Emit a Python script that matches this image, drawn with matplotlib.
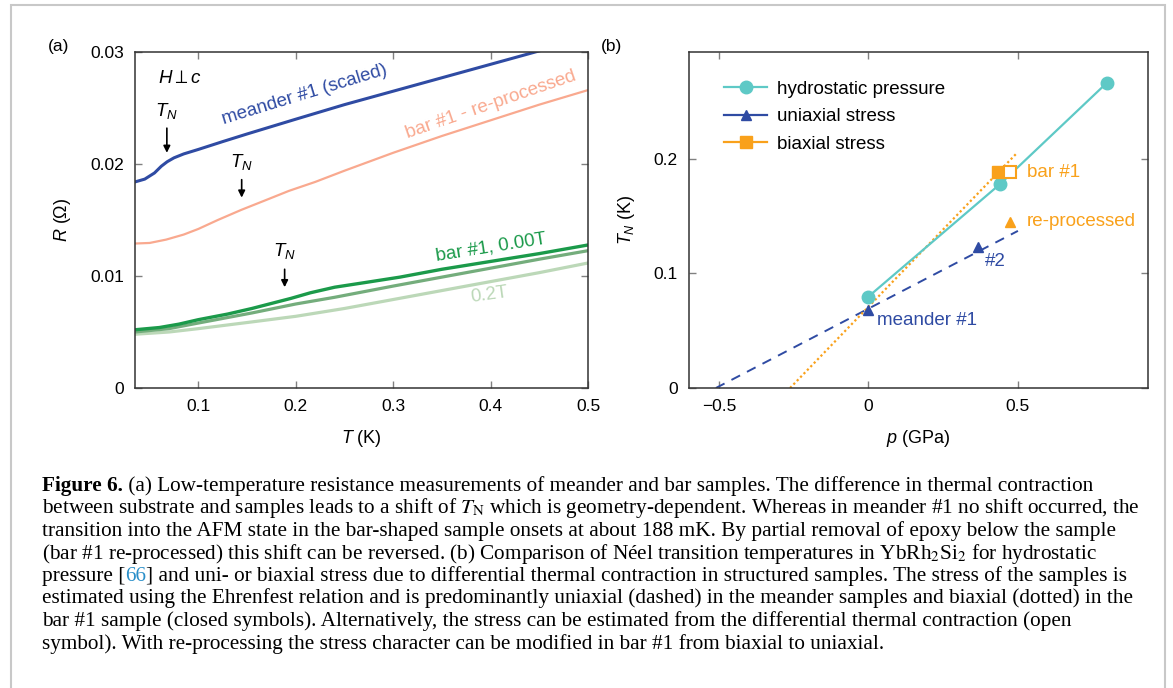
import numpy as np
import matplotlib
matplotlib.use("Agg")
import matplotlib.pyplot as plt
from matplotlib.patches import Rectangle

plt.rcParams['font.family'] = ['Liberation Sans', 'DejaVu Sans']
plt.rcParams['mathtext.fontset'] = 'custom'
plt.rcParams['mathtext.rm'] = 'Liberation Sans'
plt.rcParams['mathtext.it'] = 'Liberation Sans:italic'
plt.rcParams['mathtext.fallback'] = 'stixsans'

# ---- panel (a): R(T) curves ----
T_meander = [0.035, 0.045, 0.055, 0.062, 0.068, 0.075, 0.085, 0.1, 0.125, 0.15, 0.2, 0.25, 0.3, 0.35, 0.4, 0.45, 0.5]
R_meander = [0.0184, 0.01865, 0.0192, 0.0198, 0.0202, 0.02055, 0.0209, 0.0213, 0.0220, 0.02268, 0.0240, 0.0253,
             0.0265, 0.0277, 0.0289, 0.0301, 0.0313]

T_reproc = [0.035, 0.05, 0.067, 0.085, 0.1, 0.12, 0.144, 0.17, 0.193, 0.22, 0.25, 0.3, 0.35, 0.4, 0.45, 0.5]
R_reproc = [0.0129, 0.01295, 0.01325, 0.0137, 0.0142, 0.0150, 0.0159, 0.0168, 0.0176, 0.0184, 0.0194, 0.0210,
            0.0225, 0.0239, 0.0253, 0.0266]

T_bar0 = [0.035, 0.06, 0.08, 0.1, 0.13, 0.155, 0.175, 0.195, 0.215, 0.24, 0.27, 0.307, 0.35, 0.4, 0.45, 0.5]
R_bar0 = [0.0052, 0.0054, 0.0057, 0.0061, 0.0066, 0.0071, 0.00755, 0.0080, 0.0085, 0.0090, 0.0094, 0.0099,
          0.0106, 0.0113, 0.0120, 0.01277]

T_barmid = [0.035, 0.07, 0.1, 0.155, 0.2, 0.24, 0.3, 0.35, 0.4, 0.45, 0.5]
R_barmid = [0.0050, 0.0053, 0.0058, 0.0067, 0.0075, 0.0081, 0.0091, 0.0099, 0.0107, 0.0115, 0.01226]

T_bar02 = [0.035, 0.07, 0.1, 0.155, 0.2, 0.25, 0.3, 0.35, 0.4, 0.45, 0.5]
R_bar02 = [0.0048, 0.0050, 0.0053, 0.0059, 0.0064, 0.0071, 0.0079, 0.0087, 0.0095, 0.0103, 0.01116]

# T_N markers: (T, label R, arrow start R, arrow end R)
tn_T = [0.0677, 0.1445, 0.1886]
tn_label_R = [0.0247, 0.02015, 0.01225]
tn_arrow_R = [(0.0232, 0.0210), (0.0186, 0.0170), (0.0106, 0.0090)]

# ---- panel (b): T_N(p) ----
p_hydro = [0.0, 0.441, 0.797]
TN_hydro = [0.0797, 0.178, 0.266]
p_uni = [0.0, 0.366]
TN_uni = [0.068, 0.123]
p_uni_fit = [-0.51, 0.5]
TN_uni_fit = [0.0, 0.137]
p_bi = [0.435]
TN_bi = [0.188]
p_bi_open = [0.473]
TN_bi_open = [0.188]
p_bi_fit = [-0.262, 0.497]
TN_bi_fit = [0.0, 0.205]
p_reproc = [0.472]
TN_reproc = [0.145]

c_cyan = '#5ec9c6'
c_blue = '#2f4ba3'
c_orange = '#f9a11b'
c_salmon = '#f9a98f'
c_green = '#1b9a4a'
c_green_mid = '#74ad7c'
c_green_light = '#bcd8b8'
spine_c = '#333333'
tick_c = '#808080'
afs = 13.5

fig = plt.figure(figsize=(11.73, 6.88), dpi=100)
W, H = 1173, 688


def fx(px):
    return px / W


def fy(py):
    return 1 - py / H


ax1 = fig.add_axes([fx(135), fy(388), fx(588) - fx(135), fy(52) - fy(388)])
ax2 = fig.add_axes([fx(689), fy(388), fx(1148) - fx(689), fy(52) - fy(388)])

for ax in (ax1, ax2):
    for s in ax.spines.values():
        s.set_color(spine_c)
        s.set_linewidth(1.1)
    ax.tick_params(direction='in', top=True, right=True, length=5, width=1,
                   color=tick_c, labelsize=12.5, pad=8)

# panel (a)
ax1.plot(T_bar02, R_bar02, color=c_green_light, lw=2.3)
ax1.plot(T_barmid, R_barmid, color=c_green_mid, lw=2.3)
ax1.plot(T_bar0, R_bar0, color=c_green, lw=2.4)
ax1.plot(T_reproc, R_reproc, color=c_salmon, lw=1.6)
ax1.plot(T_meander, R_meander, color=c_blue, lw=2.2)
ax1.set_xlim(0.035, 0.5)
ax1.set_ylim(0, 0.03)
ax1.set_xticks([0.1, 0.2, 0.3, 0.4, 0.5])
ax1.set_xticklabels(['0.1', '0.2', '0.3', '0.4', '0.5'])
ax1.set_yticks([0, 0.01, 0.02, 0.03])
ax1.set_yticklabels(['0', '0.01', '0.02', '0.03'])
ax1.set_xlabel(r'$T$ (K)', fontsize=13, labelpad=10)
ax1.set_ylabel(r'$R$ ($\Omega$)', fontsize=13, labelpad=12)

ax1.text(0.059, 0.0276, r'$H \perp c$', fontsize=afs, ha='left', va='center')
for t, rl, (ra, rb) in zip(tn_T, tn_label_R, tn_arrow_R):
    ax1.text(t, rl, r'$T_N$', fontsize=afs, ha='center', va='center')
    ax1.annotate('', xy=(t, rb), xytext=(t, ra),
                 arrowprops=dict(arrowstyle='-|>', color='black', lw=1.2,
                                 mutation_scale=10, shrinkA=0, shrinkB=0))

ax1.text(0.209, 0.0262, 'meander #1 (scaled)', color=c_blue, fontsize=afs,
         rotation=17, ha='center', va='center', rotation_mode='anchor')
ax1.text(0.400, 0.0253, 'bar #1 - re-processed', color=c_salmon, fontsize=afs,
         rotation=19, ha='center', va='center', rotation_mode='anchor')
ax1.text(0.400, 0.0126, 'bar #1, 0.00T', color=c_green, fontsize=afs,
         rotation=9, ha='center', va='center', rotation_mode='anchor')
ax1.text(0.399, 0.0083, '0.2T', color=c_green_light, fontsize=afs,
         rotation=8, ha='center', va='center', rotation_mode='anchor')

# panel (b)
ax2.plot(p_uni_fit, TN_uni_fit, color=c_blue, lw=1.4, ls=(0, (5, 4)))
ax2.plot(p_bi_fit, TN_bi_fit, color=c_orange, lw=1.6, ls=(0, (1, 1.2)))
ax2.plot(p_hydro, TN_hydro, color=c_cyan, lw=1.6, marker='o', ms=9,
         label='hydrostatic pressure')
ax2.plot(p_uni, TN_uni, color=c_blue, ls='none', marker='^', ms=7.5)
ax2.plot(p_bi, TN_bi, color=c_orange, ls='none', marker='s', ms=9)
ax2.plot(p_bi_open, TN_bi_open, color=c_orange, ls='none', marker='s', ms=9,
         mfc='white', mew=1.5)
ax2.plot(p_reproc, TN_reproc, color=c_orange, ls='none', marker='^', ms=7.5)
ax2.plot([], [], color=c_blue, lw=1.6, marker='^', ms=7.5, label='uniaxial stress')
ax2.plot([], [], color=c_orange, lw=1.6, marker='s', ms=9, label='biaxial stress')
ax2.set_xlim(-0.6, 0.935)
ax2.set_ylim(0, 0.293)
ax2.set_xticks([-0.5, 0, 0.5])
ax2.set_xticklabels(['\u22120.5', '0', '0.5'])
ax2.set_yticks([0, 0.1, 0.2])
ax2.set_yticklabels(['0', '0.1', '0.2'])
ax2.set_xlabel(r'$p$ (GPa)', fontsize=13, labelpad=10)
ax2.set_ylabel(r'$T_N$ (K)', fontsize=13, labelpad=12)
ax2.legend(loc='upper left', bbox_to_anchor=(0.04, 0.965), frameon=False,
           fontsize=afs, handlelength=2.3, handletextpad=0.5, labelspacing=0.55)

ax2.text(0.53, 0.188, 'bar #1', color=c_orange, fontsize=afs, ha='left', va='center')
ax2.text(0.53, 0.145, 're-processed', color=c_orange, fontsize=afs, ha='left', va='center')
ax2.text(0.39, 0.11, '#2', color=c_blue, fontsize=afs, ha='left', va='center')
ax2.text(0.03, 0.059, 'meander #1', color=c_blue, fontsize=afs, ha='left', va='center')

fig.text(fx(48), fy(47), '(a)', fontsize=12.5, ha='left', va='center')
fig.text(fx(601), fy(47), '(b)', fontsize=12.5, ha='left', va='center')

# ---- caption ----
cap = fig.add_axes([0, 0, 1, 1], zorder=-1)
cap.axis('off')
cap.set_xlim(0, 1)
cap.set_ylim(0, 1)
serif = 'Liberation Serif'
cfs = 15.3
line_base = [491, 513.5, 536, 558.5, 581, 603.5, 626, 648.5]
x0 = fx(42)

caption_lines = [
    [('Figure 6.', 'bold', 'black'),
     (' (a) Low-temperature resistance measurements of meander and bar samples. The difference in thermal contraction', 'normal', 'black')],
    [(r'between substrate and samples leads to a shift of $T_\mathrm{N}$ which is geometry-dependent. Whereas in meander #1 no shift occurred, the', 'normal', 'black')],
    [('transition into the AFM state in the bar-shaped sample onsets at about 188 mK. By partial removal of epoxy below the sample', 'normal', 'black')],
    [(r'(bar #1 re-processed) this shift can be reversed. (b) Comparison of Néel transition temperatures in YbRh$_2$Si$_2$ for hydrostatic', 'normal', 'black')],
    [('pressure [', 'normal', 'black'), ('66', 'normal', '#2a8fc9'),
     ('] and uni- or biaxial stress due to differential thermal contraction in structured samples. The stress of the samples is', 'normal', 'black')],
    [('estimated using the Ehrenfest relation and is predominantly uniaxial (dashed) in the meander samples and biaxial (dotted) in the', 'normal', 'black')],
    [('bar #1 sample (closed symbols). Alternatively, the stress can be estimated from the differential thermal contraction (open', 'normal', 'black')],
    [('symbol). With re-processing the stress character can be modified in bar #1 from biaxial to uniaxial.', 'normal', 'black')],
]

for ly, pieces in zip(line_base, caption_lines):
    prev = None
    for txt, weight, col in pieces:
        if prev is None:
            prev = cap.annotate(txt, xy=(x0, fy(ly)), xycoords='axes fraction',
                                ha='left', va='baseline', fontsize=cfs, family=serif,
                                weight=weight, color=col, math_fontfamily='stix')
        else:
            prev = cap.annotate(txt, xy=(1, 0), xycoords=prev, ha='left', va='bottom',
                                fontsize=cfs, family=serif, weight=weight, color=col,
                                math_fontfamily='stix')

fig.patches.append(Rectangle((fx(11), -0.05), fx(1165) - fx(11), fy(5) + 0.05,
                             transform=fig.transFigure, fill=False,
                             edgecolor='#c8c8c8', lw=1.5))

fig.savefig('out.png', dpi=100)
